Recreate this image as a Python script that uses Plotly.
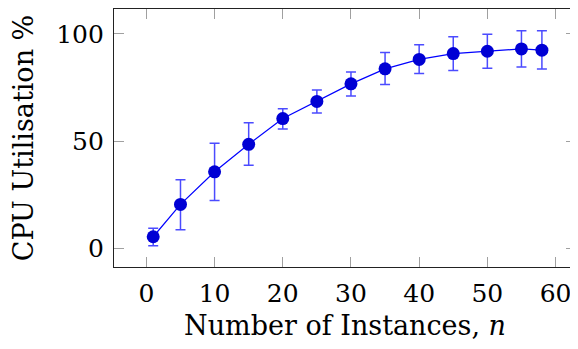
import plotly.graph_objects as go

instances = [1, 5, 10, 15, 20, 25, 30, 35, 40, 45, 50, 55, 58]
cpu_mean = [5.4, 20.5, 35.7, 48.5, 60.5, 68.5, 76.7, 83.7, 88.1, 90.8, 91.9, 93.0, 92.4]
err_plus = [4.0, 11.5, 13.3, 10.1, 4.6, 5.3, 5.5, 7.6, 6.8, 7.9, 7.9, 8.5, 9.1]
err_minus = [4.2, 11.8, 13.4, 9.7, 4.8, 5.4, 5.7, 7.3, 6.6, 7.9, 7.9, 8.5, 8.8]

x_ticks = [0, 10, 20, 30, 40, 50, 60]
y_ticks = [0, 50, 100]

FONT = "DejaVu Serif, serif"

fig = go.Figure()
fig.add_trace(go.Scatter(
    x=instances, y=cpu_mean, mode="lines+markers",
    line=dict(color="#0000ff", width=1.2),
    marker=dict(color="#0000d4", size=13, line=dict(width=0)),
    error_y=dict(type="data", symmetric=False, array=err_plus, arrayminus=err_minus,
                 color="#4b4bff", thickness=1.5, width=5),
    showlegend=False,
))

axis_common = dict(
    showgrid=False, zeroline=False, showline=True, linecolor="#222222", linewidth=1.2,
    mirror="allticks", ticks="inside", ticklen=10, tickcolor="#a0a0a0", tickwidth=1.2,
    tickfont=dict(family=FONT, size=25, color="black"), automargin=False,
)

# page body has an 8px margin; figure is sized so plot area lands where the reference has it
fig.update_layout(
    width=570, height=341,
    margin=dict(l=106, r=2, t=1, b=82),
    paper_bgcolor="white", plot_bgcolor="white",
    font=dict(family=FONT),
    xaxis=dict(range=[-4.75, 63.0], tickvals=x_ticks, ticklabelstandoff=4,
               title=dict(text="Number of Instances, <i>n</i>", font=dict(family=FONT, size=27, color="black"), standoff=9),
               **axis_common),
    yaxis=dict(range=[-8.7, 111.6], tickvals=y_ticks, ticklabelstandoff=4,
               title=dict(text="CPU Utilisation %", font=dict(family=FONT, size=27, color="black"), standoff=15),
               **axis_common),
)

fig.write_html("out.html")
